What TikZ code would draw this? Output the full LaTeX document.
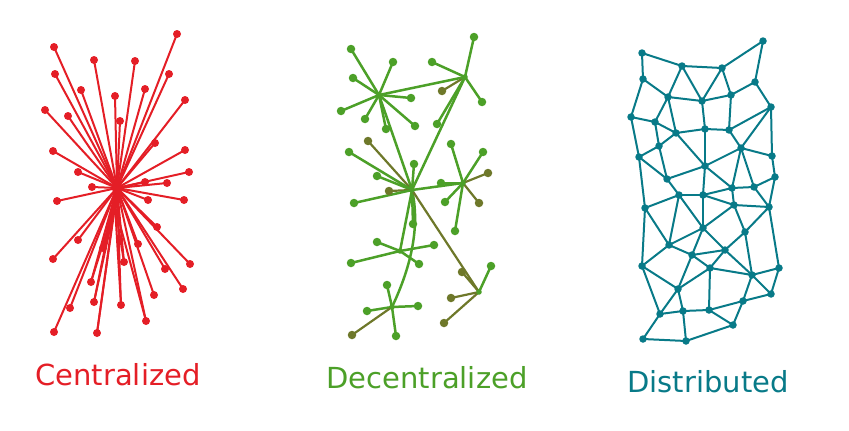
\documentclass[tikz,border=0pt]{standalone}
\usepackage{fontspec}
\setmainfont{DejaVu Sans}
\definecolor{cred}{RGB}{228,30,38}
\definecolor{cgreen}{RGB}{76,160,40}
\definecolor{colive}{RGB}{110,120,42}
\definecolor{cteal}{RGB}{8,122,136}
\tikzset{
  redge/.style={draw=cred,line width=2pt},
  rdot/.style={circle,fill=cred,inner sep=0pt,minimum size=8pt},
  gedge/.style={draw=cgreen,line width=2.5pt},
  oedge/.style={draw=colive,line width=2.2pt},
  gdot/.style={circle,fill=cgreen,inner sep=0pt,minimum size=8.5pt},
  odot/.style={circle,fill=colive,inner sep=0pt,minimum size=8.5pt},
  ghub/.style={circle,fill=cgreen,inner sep=0pt,minimum size=5.5pt},
  tedge/.style={draw=cteal,line width=2pt},
  tdot/.style={circle,fill=cteal,inner sep=0pt,minimum size=7.5pt},
  lbl/.style={anchor=base,font=\fontsize{29}{33}\selectfont,inner sep=0pt}
}
\begin{document}
\begin{tikzpicture}[x=1pt,y=-1pt]
\useasboundingbox (0,0) rectangle (849,431);
% ---------------- Centralized ----------------
\coordinate (rc) at (117,188);
\coordinate (rc2) at (115,206);
\foreach \n/\x/\y in {1/177/34,2/54/47,3/94/60,4/135/61,5/55/74,6/169/74,7/81/90,8/145/89,9/115/96,10/185/100,
  11/45/110,12/68/116,13/120/121,14/155/143,15/53/151,16/185/150,17/78/172,18/189/172,19/92/187,20/167/183,
  21/145/182,22/57/201,23/148/200,24/184/200,25/157/227,26/78/240,27/138/244,28/103/248,29/53/259,30/190/264,
  31/124/262,32/165/269,33/91/282,34/183/289,35/154/295,36/94/302,37/121/305,38/70/308,39/146/321,40/54/332,41/97/333}
  {\coordinate (r\n) at (\x,\y);}
\foreach \n in {1,...,41} {\draw[redge] (rc) -- (r\n);}
\foreach \n in {28,31,33,36,37,39,41} {\draw[redge] (rc2) -- (r\n);}
\draw[cred,line width=6pt,line cap=round] (rc) -- (rc2);
\foreach \n in {1,...,41} {\node[rdot] (rd\n) at (r\n) {};}
\node[circle,fill=cred,inner sep=0pt,minimum size=11pt] (rcd) at (rc) {};
\node[lbl,text=cred] (lc) at (118,385) {Centralized};
% ---------------- Decentralized ----------------
\coordinate (ga) at (379,95);
\coordinate (gb) at (465,77);
\coordinate (gc) at (412,190);
\coordinate (gd) at (463,183);
\coordinate (ge) at (400,251);
\coordinate (gf) at (392,307);
\coordinate (gg) at (479,292);
\foreach \n/\x/\y/\h/\k in {
  a1/351/49/ga/g,a2/393/62/ga/g,a3/353/78/ga/g,a4/411/98/ga/g,a5/341/111/ga/g,a6/365/119/ga/g,a7/386/129/ga/g,a8/415/126/ga/g,
  b1/474/37/gb/g,b2/432/62/gb/g,b3/442/91/gb/o,b4/482/102/gb/g,b5/437/124/gb/g,
  c1/368/141/gc/o,c2/349/152/gc/g,c3/414/164/gc/g,c4/377/176/gc/g,c5/389/191/gc/o,c6/354/203/gc/g,c7/413/224/gc/g,
  d1/451/144/gd/g,d2/483/152/gd/g,d3/488/173/gd/o,d4/479/203/gd/o,d5/445/202/gd/g,d6/455/231/gd/g,d7/441/183/gd/g,
  e1/377/242/ge/g,e2/434/245/ge/g,e3/351/263/ge/g,e4/419/264/ge/g,
  f1/387/285/gf/g,f2/367/311/gf/g,f3/418/306/gf/g,f4/352/335/gf/o,f5/396/336/gf/g,
  g1/462/272/gg/o,g2/491/266/gg/g,g3/451/298/gg/o,g4/444/323/gg/o}
  {\coordinate (\n) at (\x,\y);
   \draw[\k edge] (\h) -- (\n);}
\draw[gedge] (ga) -- (gb);
\draw[gedge] (ga) -- (gc);
\draw[gedge] (gb) -- (gc);
\draw[gedge] (gc) -- (gd);
\draw[gedge] (gc) -- (ge);
\draw[gedge] (gc) .. controls (420,225) and (412,265) .. (gf);
\draw[oedge] (gc) -- (gg);
\foreach \n/\k in {a1/g,a2/g,a3/g,a4/g,a5/g,a6/g,a7/g,a8/g,b1/g,b2/g,b3/o,b4/g,b5/g,
  c1/o,c2/g,c3/g,c4/g,c5/o,c6/g,c7/g,d1/g,d2/g,d3/o,d4/o,d5/g,d6/g,d7/g,
  e1/g,e2/g,e3/g,e4/g,f1/g,f2/g,f3/g,f4/o,f5/g,g1/o,g2/g,g3/o,g4/o}
  {\node[\k dot] (\n d) at (\n) {};}
\foreach \h in {ga,gb,gc,gd,ge,gf,gg} {\node[ghub] (\h d) at (\h) {};}
\node[lbl,text=cgreen] (ld) at (427,388) {Decentralized};
% ---------------- Distributed ----------------
\foreach \n/\x/\y in {1/642/53,2/763/41,3/682/66,4/722/68,5/643/79,6/755/82,7/668/97,8/702/101,9/731/95,10/771/107,
  11/631/117,12/655/122,13/676/133,14/705/129,15/729/130,16/659/146,17/741/148,18/639/157,19/705/166,20/772/156,
  21/667/179,22/775/177,23/732/188,24/754/187,25/679/195,26/703/195,27/645/208,28/734/205,29/769/207,30/703/228,
  31/745/232,32/669/245,33/725/250,34/692/255,35/642/266,36/710/268,37/779/268,38/752/275,39/678/289,40/771/294,
  41/743/301,42/660/314,43/683/311,44/709/310,45/733/325,46/643/339,47/686/341}
  {\coordinate (t\n) at (\x,\y);}
\foreach \a/\b in {1/3,1/5,3/4,4/2,2/6,3/7,3/8,4/8,4/9,6/9,6/10,5/7,5/11,7/8,8/9,7/12,7/13,8/14,9/15,10/15,
  10/17,10/20,11/12,11/18,12/13,12/16,13/14,14/15,13/16,15/17,16/18,13/19,14/19,17/19,17/20,16/21,18/21,19/21,
  17/23,17/24,20/22,19/23,23/24,24/22,18/27,19/26,21/25,25/26,27/25,25/30,25/32,26/23,26/28,26/30,23/28,24/29,
  22/29,28/29,28/30,28/31,29/31,29/37,27/32,27/35,30/32,30/34,30/33,31/33,31/38,32/34,32/35,34/33,34/36,33/36,
  33/38,34/39,35/39,35/42,36/38,36/39,36/44,37/38,37/40,38/40,38/41,39/42,39/43,40/41,41/44,41/45,42/43,43/44,
  44/45,42/46,46/47,43/47,45/47}
  {\draw[tedge] (t\a) -- (t\b);}
\foreach \n in {1,...,47} {\node[tdot] (td\n) at (t\n) {};}
\node[lbl,text=cteal] (lt) at (708,392) {Distributed};
\end{tikzpicture}
\end{document}
